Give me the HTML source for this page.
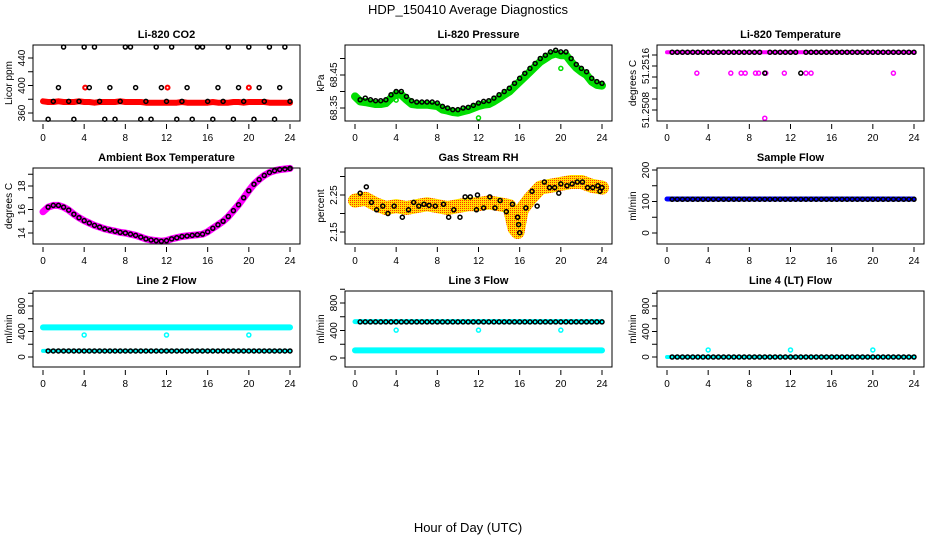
<!DOCTYPE html>
<html><head><meta charset="utf-8">
<style>
html,body{margin:0;padding:0;background:#fff;}
svg{display:block;font-family:"Liberation Sans",Arial,sans-serif;}
</style></head>
<body>
<svg id="chart" width="936" height="540" viewBox="0 0 936 540" xmlns="http://www.w3.org/2000/svg">
<defs>
<pattern id="dither" width="2" height="2" patternUnits="userSpaceOnUse">
<rect width="2" height="2" fill="#ffe000"/><rect width="1" height="1" fill="#ff3000"/>
</pattern>
</defs>
<text x="468" y="14" text-anchor="middle" font-size="13">HDP_150410  Average Diagnostics</text>
<text x="468" y="532" text-anchor="middle" font-size="13">Hour of Day (UTC)</text>
</svg>
<script>
// ---- data ----
const halfHours = [0,0.5,1,1.5,2,2.5,3,3.5,4,4.5,5,5.5,6,6.5,7,7.5,8,8.5,9,9.5,10,10.5,11,11.5,12,12.5,13,13.5,14,14.5,15,15.5,16,16.5,17,17.5,18,18.5,19,19.5,20,20.5,21,21.5,22,22.5,23,23.5,24];
const blackHours = [0.5,1,1.5,2,2.5,3,3.5,4,4.5,5,5.5,6,6.5,7,7.5,8,8.5,9,9.5,10,10.5,11,11.5,12,12.5,13,13.5,14,14.5,15,15.5,16,16.5,17,17.5,18,18.5,19,19.5,20,20.5,21,21.5,22,22.5,23,23.5,24];
const xTicks = [0,4,8,12,16,20,24];

const co2Red = [377,376,376,377,376,376,376,377,376,376,375,376,376,376,376,377,376,376,376,376,375,375,375,375,375,375,375,376,375,375,375,375,375,376,375,375,375,376,376,375,376,376,376,376,375,375,375,375,375];
const co2Black = [351,377,397,456,377,351,377,456,397,456,377,351,397,351,377,456,456,397,351,377,351,456,397,377,456,351,377,397,351,456,456,377,351,397,377,456,351,397,377,456,351,397,377,456,351,397,456,377];
const co2RedOutHours = [4.1,12.1,20];
const co2RedOutVals = [397,397,397];

const pressure = [68.389,68.375,68.38,68.375,68.372,68.372,68.375,68.39,68.40,68.40,68.385,68.372,68.368,68.368,68.368,68.368,68.365,68.355,68.35,68.345,68.345,68.35,68.352,68.358,68.365,68.37,68.372,68.38,68.39,68.40,68.41,68.425,68.44,68.455,68.47,68.485,68.50,68.51,68.52,68.525,68.52,68.52,68.50,68.482,68.47,68.46,68.44,68.43,68.425];
const pressureGreen = [68.385,68.37,68.368,68.365,68.362,68.362,68.365,68.38,68.392,68.39,68.375,68.362,68.36,68.36,68.36,68.358,68.356,68.345,68.342,68.338,68.336,68.34,68.344,68.35,68.356,68.36,68.362,68.37,68.38,68.39,68.40,68.415,68.43,68.445,68.46,68.475,68.49,68.50,68.51,68.515,68.51,68.51,68.49,68.472,68.46,68.45,68.43,68.42,68.418];
const pressureGreenOutHours = [4,12,20];
const pressureGreenOutVals = [68.374,68.32,68.47];

const tempTop = 51.25185, tempMid = 51.25147;
const tempMagenta = halfHours.map(()=>tempTop);
const tempBlack = blackHours.map(h => (h===9.5||h===13)?tempMid:tempTop);
const tempMagOutHours = [2.9,6.2,7.2,7.6,8.6,8.9,9.6,11.4,13.5,14,22,9.5];
const tempMagOutVals = [tempMid,tempMid,tempMid,tempMid,tempMid,tempMid,tempMid,tempMid,tempMid,tempMid,tempMid,51.25065];

const ambient = [15.8,16.2,16.35,16.35,16.2,15.95,15.6,15.3,15.05,14.85,14.65,14.5,14.35,14.25,14.15,14.05,14.0,13.9,13.8,13.65,13.5,13.4,13.35,13.3,13.35,13.5,13.6,13.7,13.75,13.8,13.85,13.9,14.1,14.4,14.7,15.0,15.4,15.9,16.4,17.0,17.6,18.15,18.55,18.9,19.15,19.3,19.4,19.45,19.5];

const rhBandHours = [0,1,2,3,4,5,6,7,8,9,10,11,12,13,14,15,15.5,15.8,16.2,17,18,19,20,21,22,23,24];
const rhBand = [2.235,2.24,2.225,2.215,2.22,2.215,2.22,2.225,2.22,2.215,2.22,2.225,2.225,2.23,2.225,2.22,2.16,2.15,2.21,2.24,2.27,2.275,2.28,2.285,2.285,2.275,2.27];
const rhHours = [0.5,1.1,1.6,2.1,2.7,3.2,3.8,4.6,5.2,5.7,6.2,6.7,7.2,7.8,8.6,9.1,9.6,10.2,10.7,11.2,11.8,11.9,12.5,13.1,13.6,14.1,14.7,15.3,15.8,15.9,16.0,16.6,17.2,17.7,18.4,18.9,19.4,19.8,20,20.6,21.1,21.6,22.1,22.6,23.1,23.6,23.8,24];
const rhBlack = [2.255,2.272,2.23,2.21,2.22,2.20,2.22,2.19,2.21,2.23,2.22,2.225,2.222,2.22,2.225,2.19,2.21,2.19,2.245,2.245,2.21,2.25,2.215,2.245,2.215,2.235,2.205,2.225,2.19,2.17,2.148,2.215,2.26,2.22,2.285,2.27,2.27,2.255,2.28,2.275,2.28,2.285,2.285,2.27,2.27,2.275,2.26,2.27];

const sampleBlue = halfHours.map(()=>108);
const sampleBlack = blackHours.map(()=>107);

const line2Cyan = halfHours.map(()=>465);
const line2CyanLow = halfHours.map(()=>95);
const line2Black = blackHours.map(()=>95);
const line2OutHours = [4,12,20];
const line2OutVals = [345,345,345];

const line3Cyan = halfHours.map(()=>530);
const line3CyanLow = halfHours.map(()=>110);
const line3Black = blackHours.map(()=>525);
const line3OutHours = [4,12,20];
const line3OutVals = [405,405,405];

const line4Cyan = halfHours.map(()=>0);
const line4Black = blackHours.map(()=>0);
const line4OutHours = [4,12,20];
const line4OutVals = [110,110,110];

// ---- drawing ----
const NS = "http://www.w3.org/2000/svg";
const svg = document.getElementById('chart');
function mk(tag, attrs, parent){
  const e = document.createElementNS(NS, tag);
  for (const k in attrs) e.setAttribute(k, attrs[k]);
  (parent||svg).appendChild(e);
  return e;
}
const rowTop = [45,168,291], rowBot = [121,244,367];

function panel(col, row, title, ylab, ref, yTicks, yLabels){
  const g = mk('g', {});
  
  
  const L = 33 + 312*col, R = 300 + 312*col, T = rowTop[row], B = rowBot[row];
  const xs = h => (43 + 312*col) + h*(247/24);
  const ys = v => ref[1] + (v - ref[0])*(ref[3]-ref[1])/(ref[2]-ref[0]);
  const plot = mk('g', {}, g);
  
  
  const box = mk('rect', {x:L, y:T, width:R-L, height:B-T, fill:'none', stroke:'#000', 'stroke-width':1}, g);
  
  
  const t = mk('text', {x:(L+R)/2, y:T-7, 'text-anchor':'middle', 'font-size':11, 'font-weight':'bold'}, g);
  t.textContent = title;
  
  
  const yl = mk('text', {transform:`translate(${312*col+12},${(T+B)/2}) rotate(-90)`, 'text-anchor':'middle', 'font-size':10}, g);
  yl.textContent = ylab;
  
  
  const xa = mk('g', {}, g);
  
  
  xTicks.forEach(v => {
    mk('line', {x1:xs(v), x2:xs(v), y1:B+3, y2:B+8, stroke:'#000'}, xa);
    const tl = mk('text', {x:xs(v), y:B+20, 'text-anchor':'middle', 'font-size':10}, xa);
    tl.textContent = v;
    
    
  });
  const ya = mk('g', {}, g);
  
  
  yTicks.forEach(v => mk('line', {x1:L-5, x2:L, y1:ys(v), y2:ys(v), stroke:'#000'}, ya));
  yLabels.forEach(v => {
    const tl = mk('text', {transform:`translate(${L-8},${ys(v)}) rotate(-90)`, 'text-anchor':'middle', 'font-size':10}, ya);
    tl.textContent = v;
    
    
  });
  return {g:plot, xs, ys};
}
function band(p, hours, vals, color, w, name){
  const pts = hours.map((h,i)=>p.xs(h).toFixed(1)+','+p.ys(vals[i]).toFixed(1)).join(' ');
  const e = mk('polyline', {points:pts, fill:'none', stroke:color, 'stroke-width':w, 'stroke-linejoin':'round', 'stroke-linecap':'round'}, p.g);
  
  
}
function pts(p, hours, vals, color, name, r, sw){
  const grp = mk('g', {}, p.g);
  
  
  hours.forEach((h,i)=>{
    const c = mk('circle', {cx:p.xs(h), cy:p.ys(vals[i]), r:r||2, fill:'none', stroke:color, 'stroke-width':sw||1.5}, grp);
    
    
  });
}

let p;
p = panel(0,0,'Li-820 CO2','Licor ppm',[360,113,440,58],[360,380,400,420,440],[360,400,440]);
band(p, halfHours, co2Red, '#ff0000', 6, 'co2-red-series');
pts(p, co2RedOutHours, co2RedOutVals, '#ff0000', 'co2-red-outliers', 2, 2);
pts(p, blackHours, co2Black, '#000', 'co2-black-series');

p = panel(1,0,'Li-820 Pressure','kPa',[68.35,108,68.45,75],[68.35,68.40,68.45,68.50],['68.35','68.45']);
band(p, halfHours, pressureGreen, '#00dd00', 8, 'pressure-green-series');
pts(p, pressureGreenOutHours, pressureGreenOutVals, '#00dd00', 'pressure-green-outliers');
pts(p, blackHours, pressure.slice(1), '#000', 'pressure-black-series');

p = panel(2,0,'Li-820 Temperature','degrees C',[51.2508,110,51.2516,66],[51.2508,51.251,51.2512,51.2514,51.2516,51.2518],['51.2508','51.2516']);
band(p, halfHours, tempMagenta, '#ff00ff', 4, 'temp-magenta-series');
pts(p, tempMagOutHours, tempMagOutVals, '#ff00ff', 'temp-magenta-outliers');
pts(p, blackHours, tempBlack, '#000', 'temp-black-series');

p = panel(0,1,'Ambient Box Temperature','degrees C',[14,233,18,186],[14,15,16,17,18,19],[14,16,18]);
band(p, halfHours, ambient, '#ff00ff', 7, 'ambient-magenta-series');
pts(p, blackHours, ambient.slice(1), '#000', 'ambient-black-series');

p = panel(1,1,'Gas Stream RH','percent',[2.15,232,2.25,195],[2.15,2.2,2.25,2.3],['2.15','2.25']);
band(p, rhBandHours, rhBand, 'url(#dither)', 14, 'rh-orange-series');
pts(p, rhHours, rhBlack, '#000', 'rh-black-series');

p = panel(2,1,'Sample Flow','ml/min',[0,233,200,170],[0,50,100,150,200],[0,100,200]);
band(p, halfHours, sampleBlue, '#0000ff', 5, 'sample-blue-series');
pts(p, blackHours, sampleBlack, '#000', 'sample-black-series');

p = panel(0,2,'Line 2 Flow','ml/min',[0,357,800,306],[0,200,400,600,800,1000],[0,400,800]);
band(p, halfHours, line2Cyan, '#00ffff', 6, 'line2-cyan-series');
band(p, halfHours, line2CyanLow, '#00ffff', 4, 'line2-cyan-low-series');
pts(p, line2OutHours, line2OutVals, '#00ffff', 'line2-cyan-outliers');
pts(p, blackHours, line2Black, '#000', 'line2-black-series');

p = panel(1,2,'Line 3 Flow','ml/min',[0,358,800,303],[0,200,400,600,800,1000],[0,400,800]);
band(p, halfHours, line3CyanLow, '#00ffff', 6, 'line3-cyan-low-series');
band(p, halfHours, line3Cyan, '#00ffff', 5, 'line3-cyan-series');
pts(p, line3OutHours, line3OutVals, '#00ffff', 'line3-cyan-outliers');
pts(p, blackHours, line3Black, '#000', 'line3-black-series');

p = panel(2,2,'Line 4 (LT) Flow','ml/min',[0,357,800,306],[0,200,400,600,800,1000],[0,400,800]);
band(p, halfHours, line4Cyan, '#00ffff', 4, 'line4-cyan-series');
pts(p, line4OutHours, line4OutVals, '#00ffff', 'line4-cyan-outliers');
pts(p, blackHours, line4Black, '#000', 'line4-black-series');
</script>
</body></html>
